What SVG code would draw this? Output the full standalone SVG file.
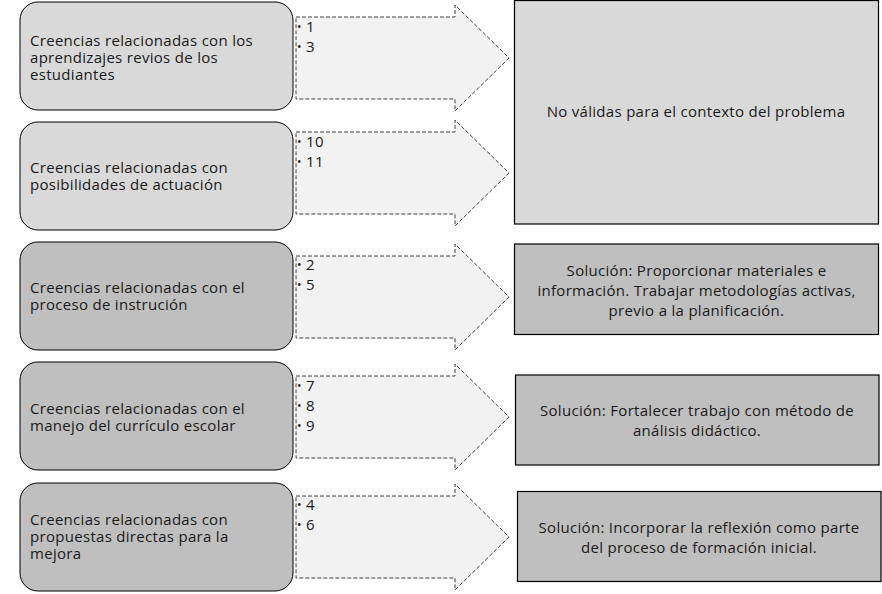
<svg xmlns="http://www.w3.org/2000/svg" width="882" height="594" viewBox="0 0 882 594">
  <style>
    .lbox { stroke: #000; stroke-width: 1; }
    .light { fill: #d9d9d9; }
    .dark { fill: #bfbfbf; }
    .rbox { stroke: #000; stroke-width: 1.2; }
    .arrow { fill: #f2f2f2; stroke: #404040; stroke-width: 1; stroke-dasharray: 4 2; }
    text { font-family: "Open Sans", "Liberation Sans", sans-serif; font-size: 15px; letter-spacing: 0.3px; fill: #1a1a1a; }
    .mid { text-anchor: middle; }
    .dot { font-size: 12px; letter-spacing: 0; }
  </style>
  <rect width="882" height="594" fill="#fff"/>
  <g id="connectors">
    <path class="arrow" d="M296,17 L455,17 L455,5 L509,58 L455,111 L455,99 L296,99 Z"/>
    <path class="arrow" d="M296,132 L455,132 L455,120 L509,173 L455,226 L455,214 L296,214 Z"/>
    <path class="arrow" d="M296,256 L455,256 L455,244 L509,297 L455,350 L455,338 L296,338 Z"/>
    <path class="arrow" d="M296,376 L455,376 L455,364 L509,417 L455,470 L455,458 L296,458 Z"/>
    <path class="arrow" d="M296,496 L455,496 L455,484 L509,537 L455,590 L455,578 L296,578 Z"/>
  </g>
  <g id="bullets1">
    <text class="dot" x="297" y="31">•</text><text x="306" y="32">1</text>
    <text class="dot" x="297" y="51">•</text><text x="306" y="52">3</text>
  </g>
  <g id="bullets2">
    <text class="dot" x="297" y="146">•</text><text x="306" y="147">10</text>
    <text class="dot" x="297" y="166">•</text><text x="306" y="167">11</text>
  </g>
  <g id="bullets3">
    <text class="dot" x="297" y="269">•</text><text x="306" y="270">2</text>
    <text class="dot" x="297" y="289">•</text><text x="306" y="290">5</text>
  </g>
  <g id="bullets4">
    <text class="dot" x="297" y="390">•</text><text x="306" y="391">7</text>
    <text class="dot" x="297" y="410">•</text><text x="306" y="411">8</text>
    <text class="dot" x="297" y="430">•</text><text x="306" y="431">9</text>
  </g>
  <g id="bullets5">
    <text class="dot" x="297" y="509">•</text><text x="306" y="510">4</text>
    <text class="dot" x="297" y="529">•</text><text x="306" y="530">6</text>
  </g>
  <g id="node1">
    <rect class="lbox light" x="20" y="2" width="273" height="108" rx="18"/>
    <text x="30" y="46">Creencias relacionadas con los</text>
    <text x="30" y="63">aprendizajes revios de los</text>
    <text x="30" y="80">estudiantes</text>
  </g>
  <g id="node2">
    <rect class="lbox light" x="20" y="122" width="273" height="108" rx="18"/>
    <text x="30" y="173">Creencias relacionadas con</text>
    <text x="30" y="190">posibilidades de actuación</text>
  </g>
  <g id="node3">
    <rect class="lbox dark" x="20" y="242" width="273" height="108" rx="18"/>
    <text x="30" y="293">Creencias relacionadas con el</text>
    <text x="30" y="310">proceso de instrución</text>
  </g>
  <g id="node4">
    <rect class="lbox dark" x="20" y="362" width="273" height="108" rx="18"/>
    <text x="30" y="414">Creencias relacionadas con el</text>
    <text x="30" y="431">manejo del currículo escolar</text>
  </g>
  <g id="node5">
    <rect class="lbox dark" x="20" y="483" width="273" height="108" rx="18"/>
    <text x="30" y="525">Creencias relacionadas con</text>
    <text x="30" y="542">propuestas directas para la</text>
    <text x="30" y="559">mejora</text>
  </g>
  <g id="resultA">
    <rect class="rbox light" x="514.5" y="0.5" width="364" height="223.5"/>
    <text class="mid" x="696" y="117">No válidas para el contexto del problema</text>
  </g>
  <g id="resultB">
    <rect class="rbox dark" x="514.5" y="244" width="364" height="90.5"/>
    <text class="mid" x="696.5" y="276">Solución: Proporcionar materiales e</text>
    <text class="mid" x="696.5" y="296">información. Trabajar metodologías activas,</text>
    <text class="mid" x="696.5" y="316">previo a la planificación.</text>
  </g>
  <g id="resultC">
    <rect class="rbox dark" x="515.5" y="375" width="363.5" height="90"/>
    <text class="mid" x="697" y="416">Solución: Fortalecer trabajo con método de</text>
    <text class="mid" x="697" y="436">análisis didáctico.</text>
  </g>
  <g id="resultD">
    <rect class="rbox dark" x="517.5" y="491.5" width="363.5" height="90"/>
    <text class="mid" x="699" y="533">Solución: Incorporar la reflexión como parte</text>
    <text class="mid" x="699" y="553">del proceso de formación inicial.</text>
  </g>
</svg>
